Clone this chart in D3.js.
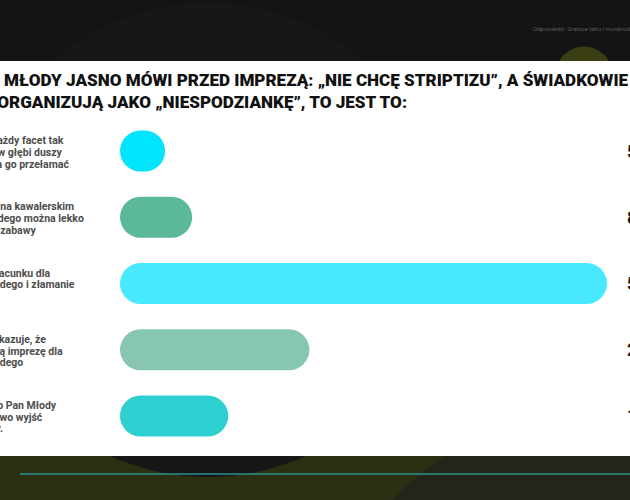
<!DOCTYPE html>
<html>
<head>
<meta charset="utf-8">
<script src="https://cdn.jsdelivr.net/npm/d3@7/dist/d3.min.js"></script>
<style>
  html, body { margin: 0; padding: 0; background: #141414; overflow: hidden; }
  svg { display: block; }
  text { font-family: Roboto, 'Noto Sans', sans-serif; }
</style>
</head>
<body>
<svg id="chart" width="630" height="500"></svg>
<script>
var titleLines = [
  'MŁODY JASNO MÓWI PRZED IMPREZĄ: „NIE CHCĘ STRIPTIZU”, A ŚWIADKOWIE I TAK GO',
  'ORGANIZUJĄ JAKO „NIESPODZIANKĘ”, TO JEST TO:'
];

// answer labels, already broken into lines (left part is cut by the frame)
var answers = [
  ['Tak, bo każdy facet tak', 'po cichu w głębi duszy', 'też trzeba go przełamać'],
  ['Standard na kawalerskim', 'i tam każdego można lekko', 'także dla zabawy'],
  ['A brak szacunku dla', 'Pana Młodego i złamanie', 'granic'],
  ['Chyba pokazuje, że', 'przygotują imprezę dla', 'Pana Młodego'],
  ['Trudno, to Pan Młody', 'to ma prawo wyjść', 'z imprezy.']
];

var shares = [5, 8, 54, 21, 12];
var shareLabels = ['5%', '8%', '54%', '21%', '12%'];

var palette = ['#00e4fe', '#5cb89b', '#48e9ff', '#87c7b0', '#2ecfd0'];

var W = 630, H = 500;
var svg = d3.select('#chart');

// backdrop: dark top, olive bottom, white panel
var panelTop = 61, panelBottom = 456;

svg.append('rect')
  .attr('width', W).attr('height', H)
  .attr('fill', '#141414');

svg.append('rect')
  .attr('y', panelBottom).attr('width', W).attr('height', H - panelBottom)
  .attr('fill', '#2c2f12');

svg.append('circle')
  .attr('cx', 650).attr('cy', 750).attr('r', 359)
  .attr('fill', '#23251a');

svg.append('circle')
  .attr('cx', 208).attr('cy', 240).attr('r', 237)
  .attr('fill', '#171717');

svg.append('circle')
  .attr('cx', 584).attr('cy', 75).attr('r', 28.5)
  .attr('fill', '#3b3d12');

svg.append('text')
  .attr('x', 533).attr('y', 31)
  .attr('font-size', 6)
  .attr('fill', '#5c5c5c')
  .text('Odpowiedzi: Granice tabu i moralności');

svg.append('line')
  .attr('x1', 20).attr('x2', W)
  .attr('y1', 474).attr('y2', 474)
  .attr('stroke', '#2b8f8c')
  .attr('stroke-width', 1.5);

svg.append('rect')
  .attr('y', panelTop).attr('width', W).attr('height', panelBottom - panelTop)
  .attr('fill', '#ffffff');

// title, sized so the second line fits its measured width
var title = svg.append('g');
var t2 = title.append('text')
  .attr('x', 407).attr('y', 108.3)
  .attr('text-anchor', 'end')
  .attr('font-weight', 900)
  .attr('font-size', 15)
  .attr('fill', '#111')
  .text(titleLines[1]);
var fs = 15 * 410 / t2.node().getComputedTextLength();
t2.attr('font-size', fs);

title.append('text')
  .attr('x', 4).attr('y', 85.7)
  .attr('font-weight', 900)
  .attr('font-size', fs)
  .attr('fill', '#111')
  .text(titleLines[0]);

// scales
var x = d3.scaleLinear()
  .domain([0, d3.max(shares)])
  .range([120, 607]);

var y = d3.scaleBand()
  .domain(d3.range(shares.length))
  .range([130.5, 436.5])
  .paddingInner(0.38);

var color = d3.scaleOrdinal()
  .domain(d3.range(shares.length))
  .range(palette);

var rows = svg.selectAll('g.row')
  .data(shares)
  .enter().append('g')
  .attr('class', 'row')
  .attr('transform', function (d, i) { return 'translate(0,' + y(i) + ')'; });

rows.append('rect')
  .attr('x', x(0))
  .attr('width', function (d) { return x(d) - x(0); })
  .attr('height', y.bandwidth())
  .attr('rx', function (d) { return Math.min(y.bandwidth(), x(d) - x(0)) / 2; })
  .attr('fill', function (d, i) { return color(i); });

var lineH = 11.7;
rows.each(function (d, i) {
  var lines = answers[i];
  var cy = y.bandwidth() / 2 + 1;
  d3.select(this).selectAll('text.lbl')
    .data(lines)
    .enter().append('text')
    .attr('class', 'lbl')
    .attr('x', -45)
    .attr('y', function (l, j) { return cy + (j - (lines.length - 1) / 2) * lineH + 3.8; })
    .attr('font-size', 10.5)
    .attr('font-weight', 700)
    .attr('fill', '#4d4d4d')
    .text(function (l) { return l; });
});

rows.append('text')
  .attr('x', 627)
  .attr('y', y.bandwidth() / 2 + 6.5)
  .attr('font-size', 18)
  .attr('font-weight', 800)
  .attr('fill', '#1a1a1a')
  .text(function (d, i) { return shareLabels[i]; });
</script>
</body>
</html>
